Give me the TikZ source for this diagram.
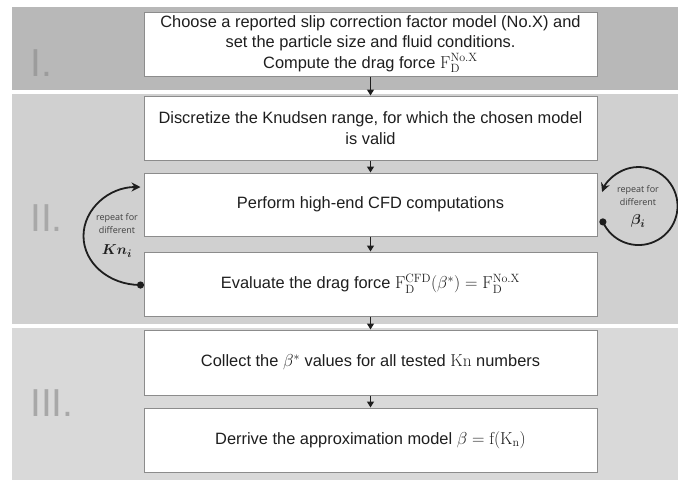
\documentclass[tikz,border=0pt]{standalone}
\usepackage{amsmath}
\usepackage[no-math]{fontspec}
\setmainfont{Liberation Sans}
\newfontfamily\labfont{Open Sans}
\usetikzlibrary{arrows.meta}
\definecolor{bandA}{HTML}{B8B8B8}
\definecolor{bandB}{HTML}{D0D0D0}
\definecolor{bandC}{HTML}{D9D9D9}
\definecolor{boxgray}{HTML}{8C8C8C}
\definecolor{txt}{HTML}{1E1E1E}
\definecolor{romA}{HTML}{9C9C9C}
\definecolor{romB}{HTML}{A8A8A8}
\definecolor{labtxt}{HTML}{404040}
\begin{document}
\begin{tikzpicture}[x=1pt,y=-1pt,
  box/.style={draw=boxgray,line width=1pt,fill=white,minimum width=453pt,minimum height=64pt,align=center,font=\fontsize{16.4}{20.5}\selectfont,text=txt,inner sep=0pt},
  flow/.style={-{Triangle[length=6pt,width=7pt]},line width=1.4pt,draw=txt},
  loopline/.style={line width=1.8pt,draw=txt,-{Stealth[length=9pt,width=9pt]}},
  roman/.style={anchor=base west,font=\fontsize{39}{39}\selectfont,inner sep=0pt},
  replab/.style={font=\labfont\fontsize{9}{13}\selectfont,text=labtxt,align=center,inner sep=0pt}
]
\useasboundingbox (0,0) rectangle (678,480);
% bands
\fill[bandA] (12,7) rectangle (678,90);
\fill[bandB] (12,94) rectangle (678,324);
\fill[bandC] (12,328) rectangle (678,480);
% roman numerals
\node[roman,text=romA] (r1) at (30,76) {I.};
\node[roman,text=romB] (r2) at (30,231) {II.};
\node[roman,text=romB] (r3) at (30,416) {III.};
% boxes
\node[box] (b1) at (370.5,44) {Choose a reported slip correction factor model (No.X) and\\ set the particle size and fluid conditions.\\ Compute the drag force $\mathrm{F}_{\mathrm{D}}^{\mathrm{No.X}}$};
\node[box] (b2) at (370.5,128) {Discretize the Knudsen range, for which the chosen model\\ is valid};
\node[box,minimum height=63pt] (b3) at (370.5,204.5) {Perform high-end CFD computations};
\node[box] (b4) at (370.5,284) {Evaluate the drag force $\mathrm{F}_{\mathrm{D}}^{\mathrm{CFD}}(\beta^{*}) = \mathrm{F}_{\mathrm{D}}^{\mathrm{No.X}}$};
\node[box,minimum height=65pt] (b5) at (370.5,362.5) {Collect the $\beta^{*}$ values for all tested $\mathrm{Kn}$ numbers};
\node[box] (b6) at (370.5,440) {Derrive the approximation model $\beta = \mathrm{f}(\mathrm{K_n})$};
% flow arrows
\draw[flow] (b1.south) -- (b2.north);
\draw[flow] (b2.south) -- (b3.north);
\draw[flow] (b3.south) -- (b4.north);
\draw[flow] (b4.south) -- (b5.north);
\draw[flow] (b5.south) -- (b6.north);
% left loop
\coordinate (ls) at ([xshift=-3pt,yshift=-1pt]b4.west);
\draw[loopline] (ls) arc[start angle=90,end angle=270,x radius=57,y radius=49];
\fill[txt] (ls) circle (3.6);
\node[replab] (lt) at (117,224) {repeat for\\ different};
\node[font=\fontsize{15}{15}\selectfont,text=txt,inner sep=0pt] (lk) at (117,251) {$\boldsymbol{Kn_i}$};
% right loop
\coordinate (rs) at ([shift={(5.4pt,-17.4pt)}]b3.east);
\draw[loopline] (rs) arc[start angle=156,end angle=-159,radius=39];
\fill[txt] (rs) circle (3.6);
\node[replab] (rt) at (638,196) {repeat for\\ different};
\node[font=\fontsize{15}{15}\selectfont,text=txt,inner sep=0pt] (rb) at (638,221) {$\boldsymbol{\beta_i}$};
\end{tikzpicture}
\end{document}
